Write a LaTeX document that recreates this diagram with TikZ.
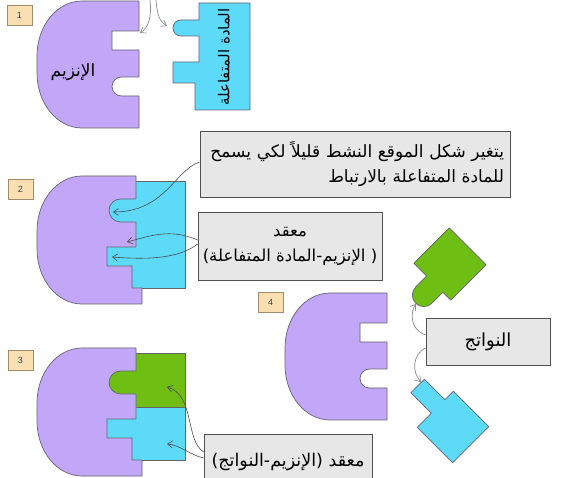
\documentclass[tikz,border=0pt]{standalone}
\usepackage{fontspec}
\setmainfont{Liberation Sans}
\newfontfamily\arabicfont[Script=Arabic]{DejaVu Sans}
\TeXXeTstate=1
\usetikzlibrary{arrows.meta}

\definecolor{enz}{HTML}{C2A7F8}
\definecolor{sub}{HTML}{5DDAF8}
\definecolor{prod}{HTML}{6EBE14}
\definecolor{outline}{HTML}{66636F}
\definecolor{tagfill}{HTML}{F9DFB2}
\definecolor{tagedge}{HTML}{A08C6C}
\definecolor{boxfill}{HTML}{E7E7E7}
\definecolor{boxedge}{HTML}{505050}

\tikzset{
  piece/.style={draw=outline, line width=0.7pt, line join=round},
  enzyme/.style={piece, fill=enz},
  substrate/.style={piece, fill=sub},
  product/.style={piece, fill=prod},
  tag/.style={draw=tagedge, fill=tagfill, line width=0.7pt, minimum width=25pt,
    minimum height=20pt, inner sep=0pt, font=\fontsize{9}{9}\selectfont, text=black!75},
  textbox/.style={draw=boxedge, fill=boxfill, line width=0.8pt, inner sep=4pt},
  pointer/.style={draw=black!70, line width=0.6pt, -{Straight Barb[length=5pt,width=7pt]}},
  softpointer/.style={draw=black!45, line width=0.7pt, -{Straight Barb[length=5pt,width=7pt]}},
}

% free enzyme: rectangular notch above, round notch below
\newcommand\freeenzyme{%
  \path[enzyme] (102,0) -- (45,0)
    arc[start angle=270, end angle=180, x radius=45, y radius=55] -- (0,72)
    arc[start angle=180, end angle=90, x radius=45, y radius=55] -- (102,127)
    -- (102,95) -- (84.5,95) arc[start angle=90, end angle=270, radius=9.5]
    -- (102,76) -- (102,49) -- (75,49) -- (75,30) -- (102,30) -- cycle;}

% enzyme after induced fit: round notch above, rectangular notch below
\newcommand\boundenzyme{%
  \path[enzyme] (99,0) -- (45,0)
    arc[start angle=270, end angle=180, x radius=45, y radius=55] -- (0,73)
    arc[start angle=180, end angle=90, x radius=45, y radius=55] -- (105,128)
    -- (105,112) -- (95,112) -- (95,90) -- (70,90) -- (70,71) -- (99,71)
    -- (99,46) -- (83.5,46) arc[start angle=90, end angle=270, radius=11.5]
    -- (99,23) -- cycle;}

\begin{document}
\begin{tikzpicture}[x=1pt, y=-1pt]
\useasboundingbox (0,0) rectangle (576,478);
\fill[white] (0,0) rectangle (576,478);

% ---------- step 1 ----------
\node[tag] (t1) at (19.5,15) {1};
\begin{scope}[shift={(37,1)}]
  \freeenzyme
\end{scope}
\node[font=\arabicfont\fontsize{17}{17}\selectfont] (enzname) at (73,72) {\beginR الإنزيم\endR};
\path[substrate] (199,3) -- (250,3) -- (250,110) -- (195,110) -- (195,83)
  -- (173,83) -- (173,62) -- (199,62) -- (199,36) -- (181,36)
  arc[start angle=90, end angle=270, radius=8] -- (199,20) -- cycle;
\node[rotate=90, font=\arabicfont\fontsize{15}{15}\selectfont] (subname) at (224,57)
  {\beginR المادة المتفاعلة\endR};
\coordinate (inL) at (150,0);
\coordinate (inR) at (156,0);
\coordinate (siteA) at (140,33);
\coordinate (knobA) at (167,26);
\draw[softpointer] (inL) .. controls (152,18) and (148,28) .. (siteA);
\draw[softpointer] (inR) .. controls (157,15) and (160,22) .. (knobA);

% ---------- step 2 ----------
\node[tag] (t2) at (20.5,189) {2};
\path[substrate] (105,181) rectangle (185,288);
\begin{scope}[shift={(37,176)}]
  \boundenzyme
\end{scope}
\node[textbox, minimum width=310pt, minimum height=66pt, text width=298pt, align=right,
  font=\arabicfont\fontsize{17}{25}\selectfont]
  (boxA) at (355,164)
  {\beginR يتغير شكل الموقع النشط قليلاً لكي يسمح\endR\\\beginR للمادة المتفاعلة بالارتباط\endR};
\node[textbox, minimum width=184pt, minimum height=68pt, align=center,
  font=\arabicfont\fontsize{16.5}{25}\selectfont]
  (boxB) at (290,246)
  {\beginR معقد\endR\\\beginR ( الإنزيم-المادة المتفاعلة)\endR};
\coordinate (roundsite) at (113,212);
\coordinate (midsite) at (127,242);
\coordinate (rectsite) at (112,257);
\draw[pointer] (boxA.west |- 0,162) .. controls (175,170) and (165,212) .. (roundsite);
\draw[pointer] (boxB.west |- 0,240) .. controls (170,228) and (150,236) .. (midsite);
\draw[pointer] (boxB.west |- 0,244) .. controls (180,258) and (150,260) .. (rectsite);

% ---------- step 3 ----------
\node[tag] (t3) at (20.5,360) {3};
\path[product] (105,353) rectangle (185,407);
\path[substrate] (105,407) rectangle (185,460);
\begin{scope}[shift={(37,348)}]
  \boundenzyme
\end{scope}
\node[textbox, minimum width=168pt, minimum height=56pt,
  font=\arabicfont\fontsize{17.5}{20}\selectfont] (boxD) at (288,462)
  {\beginR معقد (الإنزيم-النواتج)\endR};
\coordinate (greensite) at (167,387);
\coordinate (cyansite) at (167,444);
\draw[pointer] (boxD.west |- 0,452) .. controls (185,440) and (195,395) .. (greensite);
\draw[pointer] (boxD.west |- 0,458) .. controls (190,455) and (180,445) .. (cyansite);

% ---------- step 4 ----------
\node[tag] (t4) at (270.5,302.5) {4};
\begin{scope}[shift={(285,293)}]
  \freeenzyme
\end{scope}
\begin{scope}[shift={(450,264)}, rotate=45]
  \path[product] (-25,-26) -- (25,-26) -- (25,26) -- (-25,26) -- (-25,15)
    -- (-40.5,15) arc[start angle=90, end angle=270, radius=11.5]
    -- (-25,-8) -- cycle;
\end{scope}
\begin{scope}[shift={(453,427)}, rotate=-45]
  \path[substrate] (-25,-25.5) -- (25,-25.5) -- (25,25.5) -- (-25,25.5)
    -- (-25,5.5) -- (-54,5.5) -- (-54,-13.5) -- (-25,-13.5) -- cycle;
\end{scope}
\node[textbox, minimum width=124pt, minimum height=47pt,
  font=\arabicfont\fontsize{18}{18}\selectfont] (boxC) at (488,341.5)
  {\beginR النواتج\endR};
\coordinate (greenprod) at (416,304);
\coordinate (cyanprod) at (421,382);
\draw[softpointer] (boxC.west |- 0,335) .. controls (410,330) and (410,312) .. (greenprod);
\draw[softpointer] (boxC.west |- 0,348) .. controls (412,355) and (412,372) .. (cyanprod);
\end{tikzpicture}
\end{document}
